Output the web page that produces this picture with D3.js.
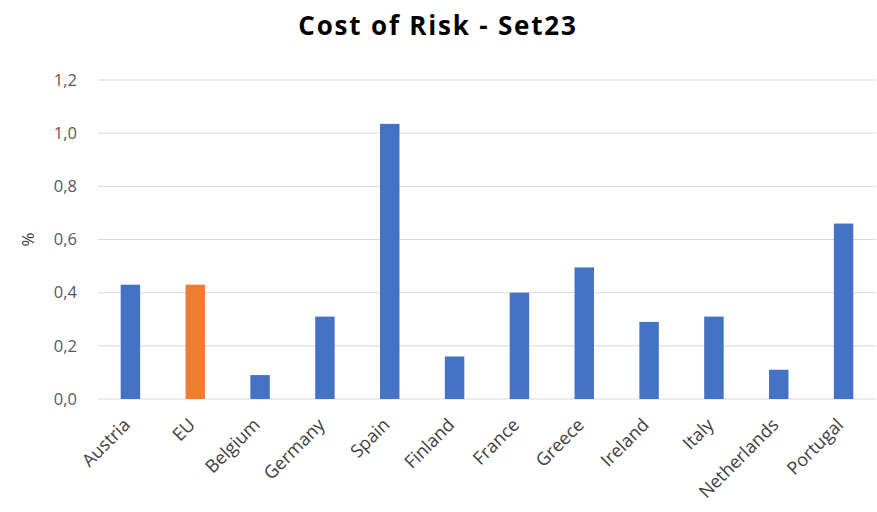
<!DOCTYPE html>
<html>
<head>
<meta charset="utf-8">
<script src="https://cdn.jsdelivr.net/npm/d3@7"></script>
<style>
  body { margin: 0; background: #fff; }
  svg, svg .axis { font-family: "Open Sans", Lato, sans-serif; }
</style>
</head>
<body>
<div id="chart-area"></div>
<script>
var countries = ["Austria", "EU", "Belgium", "Germany", "Spain", "Finland", "France", "Greece", "Ireland", "Italy", "Netherlands", "Portugal"];
var costOfRisk = [0.43, 0.43, 0.09, 0.31, 1.035, 0.16, 0.40, 0.495, 0.29, 0.31, 0.11, 0.66];
var yTicks = [0, 0.2, 0.4, 0.6, 0.8, 1.0, 1.2];
var highlight = "EU";

var margin = {left: 98, right: 1, top: 80, bottom: 113};
var width = 877 - margin.left - margin.right;
var height = 512 - margin.top - margin.bottom;

var svg = d3.select("#chart-area").append("svg")
    .attr("width", 877)
    .attr("height", 512);

var g = svg.append("g")
    .attr("transform", "translate(" + margin.left + "," + margin.top + ")");

var data = countries.map((c, i) => { return {name: c, value: costOfRisk[i]}; });

var x = d3.scaleBand()
    .domain(countries)
    .range([0, width])
    .paddingInner(0.7)
    .paddingOuter(0.35);

var y = d3.scaleLinear()
    .domain([0, 1.2])
    .range([height, 0]);

// gridlines
g.selectAll("line.grid")
    .data(yTicks)
    .enter().append("line")
    .attr("class", "grid")
    .attr("x1", 0)
    .attr("x2", width)
    .attr("y1", d => y(d))
    .attr("y2", d => y(d))
    .attr("stroke", "#d9d9d9")
    .attr("stroke-width", 1);

var leftAxis = d3.axisLeft(y)
    .tickValues(yTicks)
    .tickSize(0)
    .tickPadding(21)
    .tickFormat(d => d3.format(".1f")(d).replace(".", ","));

g.append("g")
    .attr("class", "left axis")
    .call(leftAxis)
    .attr("font-family", null)
    .call(a => a.select(".domain").remove())
    .selectAll("text")
    .attr("font-size", "16.5px")
    .attr("fill", "#595959");

g.selectAll("rect")
    .data(data)
    .enter().append("rect")
    .attr("x", d => x(d.name))
    .attr("y", d => y(d.value))
    .attr("width", x.bandwidth())
    .attr("height", d => height - y(d.value))
    .attr("fill", d => d.name === highlight ? "#ed7d31" : "#4472c4");

var bottomAxis = d3.axisBottom(x).tickSize(0).tickPadding(0);

g.append("g")
    .attr("class", "bottom axis")
    .attr("transform", "translate(0," + height + ")")
    .call(bottomAxis)
    .attr("font-family", null)
    .call(a => a.select(".domain").remove())
    .selectAll("text")
    .attr("font-size", "18px")
    .attr("fill", "#404040")
    .attr("text-anchor", "end")
    .attr("x", 0)
    .attr("y", 0)
    .attr("dy", "0")
    .attr("transform", "translate(1,27) rotate(-45)");

g.append("text")
    .attr("class", "y axis-label")
    .attr("x", -(height / 2))
    .attr("y", -64)
    .attr("font-size", "17px")
    .attr("text-anchor", "middle")
    .attr("transform", "rotate(-90)")
    .style("fill", "#404040")
    .text("%");

svg.append("text")
    .attr("x", 438)
    .attr("y", 35)
    .attr("font-size", "26px")
    .attr("font-weight", "bold")
    .attr("letter-spacing", "1.8px")
    .attr("text-anchor", "middle")
    .style("fill", "#000")
    .text("Cost of Risk - Set23");
</script>
</body>
</html>
